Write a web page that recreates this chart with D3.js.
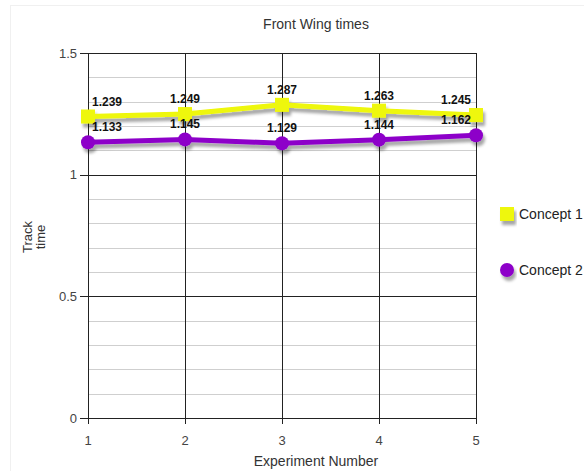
<!DOCTYPE html>
<html><head><meta charset="utf-8">
<script src="https://cdn.jsdelivr.net/npm/d3@7"></script>
<style>body{margin:0;background:#fff;}svg{display:block;font-family:"Liberation Sans",Arial,sans-serif;}</style>
</head><body><svg id="c" width="584" height="471"></svg>
<script>
const experiments = [1, 2, 3, 4, 5];
const concept1 = [1.239, 1.249, 1.287, 1.263, 1.245];
const concept2 = [1.133, 1.145, 1.129, 1.144, 1.162];
const seriesNames = ["Concept 1", "Concept 2"];
const yTicks = [0, 0.5, 1, 1.5];
const title = "Front Wing times";
const xTitle = "Experiment Number";
const yTitle = ["Track", "time"];

const svg = d3.select("#c");
const defs = svg.append("defs");
const f = defs.append("filter").attr("id","sh").attr("x","-20%").attr("y","-50%").attr("width","140%").attr("height","250%");
f.append("feDropShadow").attr("dx",2).attr("dy",4).attr("stdDeviation",1.8).attr("flood-color","#000").attr("flood-opacity",0.35);

svg.append("rect").attr("x",10.5).attr("y",5.5).attr("width",580).attr("height",470).attr("fill","none").attr("stroke","#f0f0f0");

const x = d3.scaleLinear().domain([1,5]).range([88,476]);
const y = d3.scaleLinear().domain([0,1.5]).range([418,53]);

// minor grid
const minor = d3.range(1,15).map(i=>i/10).filter(v=>Math.abs(v*2-Math.round(v*2))>1e-6);
svg.append("g").selectAll("line").data(minor).join("line")
  .attr("x1",x(1)).attr("x2",x(5)).attr("y1",d=>Math.round(y(d))+0.5).attr("y2",d=>Math.round(y(d))+0.5)
  .attr("stroke","#cfcfcf").attr("stroke-width",1);
// major grid
svg.append("g").selectAll("line").data(yTicks).join("line")
  .attr("x1",x(1)-8).attr("x2",x(5)).attr("y1",d=>Math.round(y(d))+0.5).attr("y2",d=>Math.round(y(d))+0.5)
  .attr("stroke","#222").attr("stroke-width",1);
svg.append("g").selectAll("line").data(experiments).join("line")
  .attr("x1",d=>Math.round(x(d))+0.5).attr("x2",d=>Math.round(x(d))+0.5).attr("y1",y(1.5)).attr("y2",y(0)+6)
  .attr("stroke","#222").attr("stroke-width",1);

// axis labels
svg.append("g").selectAll("text").data(yTicks).join("text")
  .attr("x",77).attr("y",d=>y(d)+4.5).attr("text-anchor","end").attr("font-size",13).attr("fill","#444").text(d=>d);
svg.append("g").selectAll("text").data(experiments).join("text")
  .attr("x",d=>x(d)).attr("y",445).attr("text-anchor","middle").attr("font-size",13).attr("fill","#444").text(d=>d);

svg.append("text").attr("x",316).attr("y",29).attr("text-anchor","middle").attr("font-size",14).attr("fill","#333").text(title);
svg.append("text").attr("x",316).attr("y",466).attr("text-anchor","middle").attr("font-size",14).attr("fill","#333").text(xTitle);
const yt = svg.append("text").attr("transform","translate(36,237) rotate(-90)").attr("text-anchor","middle").attr("font-size",13).attr("fill","#333");
yt.append("tspan").attr("x",0).attr("dy",-4).text(yTitle[0]);
yt.append("tspan").attr("x",0).attr("dy",13).text(yTitle[1]);

const series = [
  {name: seriesNames[0], values: concept1, color:"#eef707", shape:"square"},
  {name: seriesNames[1], values: concept2, color:"#8d04c9", shape:"circle"}
];
const line = d3.line().x((d,i)=>x(experiments[i])).y(d=>y(d));

series.forEach(s=>{
  const g = svg.append("g").attr("filter","url(#sh)");
  g.append("path").attr("d",line(s.values)).attr("fill","none").attr("stroke",s.color).attr("stroke-width",5);
  if (s.shape==="square") {
    g.selectAll("rect").data(s.values).join("rect")
      .attr("x",(d,i)=>x(experiments[i])-7).attr("y",d=>y(d)-7).attr("width",14).attr("height",14).attr("fill",s.color);
  } else {
    g.selectAll("circle").data(s.values).join("circle")
      .attr("cx",(d,i)=>x(experiments[i])).attr("cy",d=>y(d)).attr("r",7).attr("fill",s.color);
  }
});
series.forEach(s=>{
  svg.append("g").selectAll("text").data(s.values).join("text")
    .attr("x",(d,i)=>Math.max(x(1)+19, Math.min(x(5)-20, x(experiments[i]))))
    .attr("y",d=>y(d)-11).attr("text-anchor","middle").attr("font-size",12).attr("font-weight","bold").attr("fill","#111")
    .text(d=>d.toFixed(3));
});

// legend
const lg = svg.append("g");
series.forEach((s,i)=>{
  const cy = 214 + i*56;
  const m = lg.append("g").attr("filter","url(#sh)");
  if (s.shape==="square") m.append("rect").attr("x",500).attr("y",cy-7).attr("width",14).attr("height",14).attr("fill",s.color);
  else m.append("circle").attr("cx",507).attr("cy",cy).attr("r",7).attr("fill",s.color);
  lg.append("text").attr("x",519).attr("y",cy+5).attr("font-size",14).attr("fill","#222").text(s.name);
});
</script></body></html>
